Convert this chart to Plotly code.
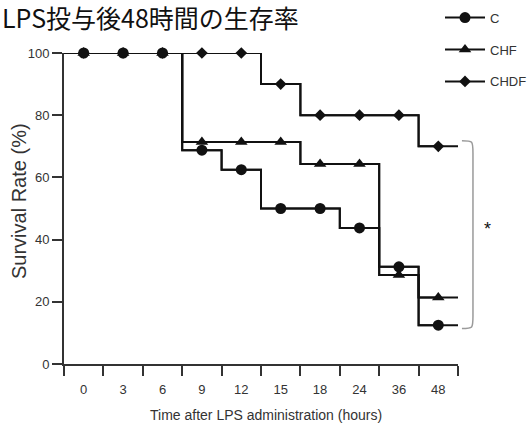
import numpy as np
import plotly.graph_objects as go

# ---- data ----
categories = ["0", "3", "6", "9", "12", "15", "18", "24", "36", "48"]
series_names = ["C", "CHF", "CHDF"]
surv_C = [100, 100, 100, 68.75, 62.5, 50, 50, 43.75, 31.25, 12.5]
surv_CHF = [100, 100, 100, 71.4, 71.4, 71.4, 64.3, 64.3, 28.6, 21.4]
surv_CHDF = [100, 100, 100, 100, 100, 90, 80, 80, 80, 70]
y_ticks = [0, 20, 40, 60, 80, 100]
title_text = "LPS投与後48時間の生存率"
x_title = "Time after LPS administration (hours)"
y_title = "Survival Rate (%)"
sig_mark = "*"

# ---- layout geometry ----
W, H = 530, 430
ML, MR, MT, MB = 64, 72, 52.5, 65.5
PW, PH = W - ML - MR, H - MT - MB


def px_x(p):
    return (p - ML) / PW


def px_y(p):
    return (H - MB - p) / PH


n = len(categories)
centers = np.arange(n)
bounds = np.arange(n + 1) - 0.5
XR = [bounds[0], bounds[-1]]
YR = [0, 100]


def dx(v):  # data x -> paper
    return (v - XR[0]) / (XR[1] - XR[0])


def dy(v):  # data y -> paper
    return (v - YR[0]) / (YR[1] - YR[0])


LATIN = "Liberation Sans, Arial, sans-serif"
CJK = "Noto Sans CJK JP, sans-serif"
INK = "#111111"
AX = "#333333"

styles = {
    "C": dict(symbol="circle", size=11),
    "CHF": dict(symbol="triangle-up", size=11),
    "CHDF": dict(symbol="diamond", size=9),
}
values = {"C": surv_C, "CHF": surv_CHF, "CHDF": surv_CHDF}

fig = go.Figure()

draw_order = ["CHDF", "CHF", "C"]
for name in draw_order:
    v = values[name]
    fig.add_trace(go.Scatter(
        x=bounds, y=list(v) + [v[-1]], mode="lines", line_shape="hv",
        line=dict(color=INK, width=2), showlegend=False, hoverinfo="skip",
        cliponaxis=False,
    ))
for name in draw_order:
    v = values[name]
    fig.add_trace(go.Scatter(
        x=centers, y=v, mode="lines+markers", line_shape="hvh", name=name,
        line=dict(color=INK, width=2),
        marker=dict(color=INK, **styles[name]),
        legendgroup=name, legendrank=series_names.index(name) + 1,
        cliponaxis=False,
    ))

# bracket derived from final values (paper coords so it is not clipped)
last_vals = [values[s][-1] for s in series_names]
b_top = dy(max(last_vals) + 1.8)
b_bot = dy(min(last_vals) - 1.1)
bx0 = dx(bounds[-1] + 0.1)
bx1 = dx(bounds[-1] + 0.38)
r = 0.04
path = (f"M {bx0},{b_top} C {bx1},{b_top} {bx1},{b_top} {bx1},{b_top - r} "
        f"L {bx1},{b_bot + r} C {bx1},{b_bot} {bx1},{b_bot} {bx0},{b_bot}")
fig.add_shape(type="path", path=path, xref="paper", yref="paper",
              line=dict(color="#9a9a9a", width=1.5))

fig.add_annotation(x=dx(bounds[-1] + 0.76), y=(b_top + b_bot) / 2,
                   xref="paper", yref="paper", xanchor="center", yanchor="middle",
                   text=sig_mark, showarrow=False, yshift=6,
                   font=dict(family=LATIN, size=18, color=INK))

# titles
fig.add_annotation(x=px_x(0), y=px_y(16), xref="paper", yref="paper",
                   xanchor="left", yanchor="middle", text=title_text, showarrow=False,
                   font=dict(family=CJK, size=25, color=INK))
fig.add_annotation(x=px_x(19), y=px_y(201), xref="paper", yref="paper",
                   xanchor="center", yanchor="middle",
                   textangle=-90, text=y_title, showarrow=False,
                   font=dict(family=LATIN, size=20, color=AX))
fig.add_annotation(x=px_x(266), y=px_y(416), xref="paper", yref="paper",
                   xanchor="center", yanchor="middle",
                   text=x_title, showarrow=False,
                   font=dict(family=LATIN, size=14, color=AX))

fig.update_layout(
    width=W, height=H,
    margin=dict(l=ML, r=MR, t=MT, b=MB, autoexpand=False),
    paper_bgcolor="white", plot_bgcolor="white",
    showlegend=True,
    legend=dict(x=px_x(440), y=px_y(2), xanchor="left", yanchor="top",
                traceorder="grouped", tracegroupgap=12,
                font=dict(family=LATIN, size=13, color=AX),
                bgcolor="rgba(0,0,0,0)", itemwidth=40),
    xaxis=dict(
        range=XR, tickmode="array", tickvals=centers,
        ticktext=categories, ticks="outside", ticklen=10, tickcolor="rgba(0,0,0,0)",
        ticklabelstandoff=2,
        minor=dict(tickmode="array", tickvals=bounds, ticks="outside", ticklen=10,
                   tickcolor=AX, tickwidth=1.5, showgrid=False),
        showline=True, linecolor=AX, linewidth=2, showgrid=False, zeroline=False,
        tickfont=dict(family=LATIN, size=13, color=AX), fixedrange=True,
    ),
    yaxis=dict(
        range=YR, tickmode="array", tickvals=y_ticks, ticks="outside",
        ticklen=10, tickcolor=AX, tickwidth=1.5,
        showline=True, linecolor=AX, linewidth=2, showgrid=False, zeroline=False,
        tickfont=dict(family=LATIN, size=13, color=AX), fixedrange=True,
    ),
)

fig.write_html("out.html")
